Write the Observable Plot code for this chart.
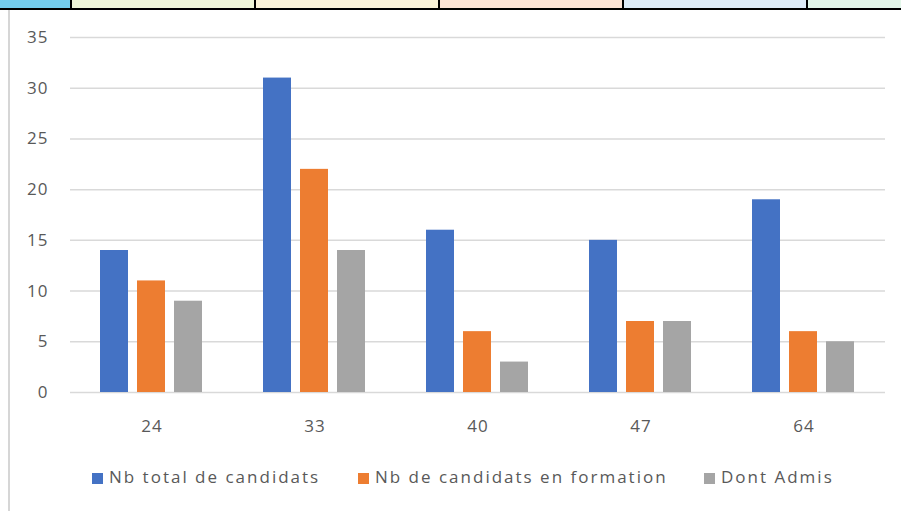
<!DOCTYPE html>
<html>
<head>
<meta charset="utf-8">
<script src="https://cdn.jsdelivr.net/npm/d3@7"></script>
<script src="https://cdn.jsdelivr.net/npm/@observablehq/plot@0.6"></script>
<style>
  html, body { margin: 0; padding: 0; background: #fff; }
  #page { position: relative; width: 901px; height: 511px; overflow: hidden; background: #fff; }
  #strip { position: absolute; left: 0; top: 0; width: 901px; height: 8px; border-bottom: 2px solid #000; z-index: 3; }
  #strip div { position: absolute; top: 0; height: 8px; border-right: 2px solid #000; box-sizing: border-box; }
  #leftline { position: absolute; left: 8px; top: 10px; width: 2px; height: 501px; background: #d6d6d6; z-index: 3; }
  #chart { position: absolute; left: 0; top: 0; }
  #chart svg text { font-size: 17px; letter-spacing: 1px; font-family: "Open Sans", sans-serif; }
  #legend { position: absolute; left: 0; top: 465px; width: 901px; height: 24px; font-family: "Open Sans", sans-serif; font-size: 17px; color: #595959; letter-spacing: 2px; }
  #legend .item { position: absolute; top: 0; white-space: nowrap; line-height: 24px; }
  #legend .sw { display: inline-block; width: 11px; height: 11px; margin-right: 6px; vertical-align: -1px; }
</style>
</head>
<body>
<div id="page">
  <div id="strip"></div>
  <div id="leftline"></div>
  <div id="chart"></div>
  <div id="legend"></div>
</div>
<script>
// ---- data ----
const categories = ["24", "33", "40", "47", "64"];
const seriesNames = ["Nb total de candidats", "Nb de candidats en formation", "Dont Admis"];
const totalCandidats = [14, 31, 16, 15, 19];
const candidatsEnFormation = [11, 22, 6, 7, 6];
const dontAdmis = [9, 14, 3, 7, 5];
const seriesColors = ["#4472C4", "#ED7D31", "#A5A5A5"];
const yTicks = [0, 5, 10, 15, 20, 25, 30, 35];

// decorative spreadsheet header cells
const headerCells = [
  {left: 0, right: 72, color: "#74CDEE"},
  {left: 72, right: 256, color: "#EFF6D9"},
  {left: 256, right: 440, color: "#FAF3D9"},
  {left: 440, right: 624, color: "#FCE4D6"},
  {left: 624, right: 808, color: "#DDEBF7"},
  {left: 808, right: 903, color: "#E2F6E9"}
];
const strip = document.getElementById("strip");
headerCells.forEach(c => {
  const d = document.createElement("div");
  d.style.left = c.left + "px";
  d.style.width = (c.right - c.left) + "px";
  d.style.background = c.color;
  strip.appendChild(d);
});

const seriesArrays = [totalCandidats, candidatsEnFormation, dontAdmis];
const data = categories.flatMap((cat, i) =>
  seriesArrays.map((arr, j) => ({cat, series: seriesNames[j], value: arr[i]}))
);

const chart = Plot.plot({
  width: 901,
  height: 450,
  marginLeft: 70,
  marginRight: 16,
  marginTop: 37,
  marginBottom: 58,
  style: {fontFamily: "Open Sans, sans-serif", fontSize: "17px", color: "#595959", background: "transparent"},
  fx: {domain: categories, padding: 0, label: null},
  x: {domain: seriesNames, paddingInner: 0.24, paddingOuter: 0.8, axis: null},
  y: {domain: [0, 35], label: null},
  color: {domain: seriesNames, range: seriesColors},
  marks: [
    Plot.gridY(yTicks, {stroke: "#d9d9d9", strokeOpacity: 1, strokeWidth: 1.5}),
    Plot.axisY(yTicks, {tickSize: 0, tickPadding: 22, label: null, fill: "#595959", fontSize: 17}),
    Plot.axisFx({anchor: "bottom", tickSize: 0, tickPadding: 27, label: null, fill: "#595959", fontSize: 17}),
    Plot.barY(data, {fx: "cat", x: "series", y: "value", fill: "series"})
  ]
});
document.getElementById("chart").appendChild(chart);

// legend
const legendX = [92, 358, 704];
const legend = document.getElementById("legend");
seriesNames.forEach((name, i) => {
  const it = document.createElement("div");
  it.className = "item";
  it.style.left = legendX[i] + "px";
  const sw = document.createElement("span");
  sw.className = "sw";
  sw.style.background = seriesColors[i];
  it.appendChild(sw);
  it.appendChild(document.createTextNode(name));
  legend.appendChild(it);
});
</script>
</body>
</html>
